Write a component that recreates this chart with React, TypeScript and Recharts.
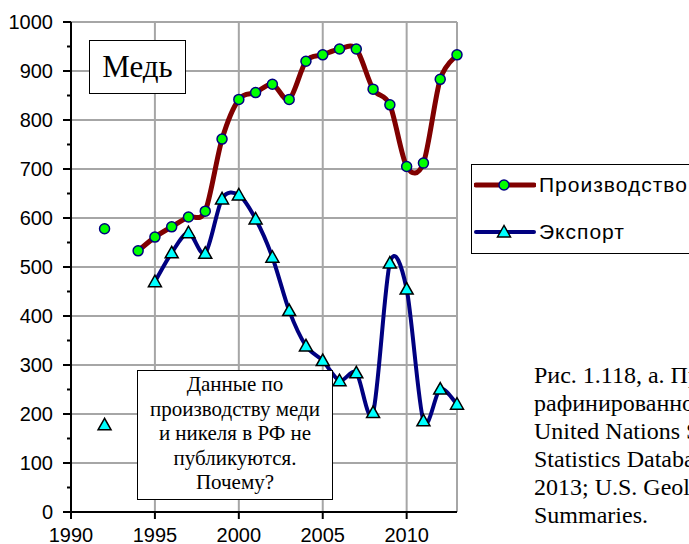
import { Line, LineChart, ReferenceLine, XAxis, YAxis } from 'recharts';

const years = [1992, 1993, 1994, 1995, 1996, 1997, 1998, 1999, 2000, 2001, 2002, 2003, 2004, 2005, 2006, 2007, 2008, 2009, 2010, 2011, 2012, 2013];
const production = [578, null, 533, 561, 582, 602, 614, 761, 842, 856, 873, 842, 920, 933, 945, 945, 863, 831, 705, 712, 883, 933];
const exportValues = [178, null, null, 470, 529, 570, 528, 639, 647, 598, 520, 411, 339, 309, 268, 284, 203, 508, 455, 186, 251, 220];

const xTicks = [1990, 1995, 2000, 2005, 2010];
const xGrid = [1995, 2000, 2005, 2010, 2013];
const yTicks = [0, 50, 100, 150, 200, 250, 300, 350, 400, 450, 500, 550, 600, 650, 700, 750, 800, 850, 900, 950, 1000];
const yGrid = [100, 200, 300, 400, 500, 600, 700, 800, 900, 1000];

const captionLines = [
  'Рис. 1.118, а. Производство и экспорт',
  'рафинированной меди, тыс. тонн. Источник:',
  'United Nations Statistics Division, Energy',
  'Statistics Database, Commodity Trade Statistics,',
  '2013; U.S. Geological Survey, Mineral Commodity',
  'Summaries.'
];
const noteLines = ['Данные по', 'производству меди', 'и никеля в РФ не', 'публикуются.', 'Почему?'];

const data = years.map((year, i) => ({ year, production: production[i], export: exportValues[i] }));

const SANS = '"Liberation Sans", Arial, sans-serif';
const SERIF = '"Liberation Serif", "Times New Roman", serif';
const GRID = '#a6a6a6';
const PROD_LINE = '#800000';
const EXP_LINE = '#000080';

// Excel-like smoothed line (cubic bezier through every point)
function smoothCurve(context: any) {
  let pts: number[][] = [];
  return {
    areaStart() {},
    areaEnd() {},
    lineStart() {
      pts = [];
    },
    lineEnd() {
      if (!pts.length) return;
      context.moveTo(pts[0][0], pts[0][1]);
      for (let i = 0; i < pts.length - 1; i++) {
        const p0 = pts[i - 1] ?? pts[i];
        const p1 = pts[i];
        const p2 = pts[i + 1];
        const p3 = pts[i + 2] ?? p2;
        const t = 0.15;
        context.bezierCurveTo(
          p1[0] + (p2[0] - p0[0]) * t,
          p1[1] + (p2[1] - p0[1]) * t,
          p2[0] - (p3[0] - p1[0]) * t,
          p2[1] - (p3[1] - p1[1]) * t,
          p2[0],
          p2[1]
        );
      }
    },
    point(x: number, y: number) {
      pts.push([+x, +y]);
    }
  };
}

function CircleDot(props: any) {
  const { cx, cy, index, value } = props;
  if (value == null || cx == null || cy == null) return <g key={`c-${index}`} />;
  return <circle key={`c-${index}`} cx={cx} cy={cy} r={5} fill="#00ff00" stroke="#000080" strokeWidth={1.5} />;
}

function TriangleDot(props: any) {
  const { cx, cy, index, value } = props;
  if (value == null || cx == null || cy == null) return <g key={`t-${index}`} />;
  const pts = `${cx},${cy - 6.5} ${cx - 6.5},${cy + 5} ${cx + 6.5},${cy + 5}`;
  return <polygon key={`t-${index}`} points={pts} fill="#00ffff" stroke="#000" strokeWidth={1.5} />;
}

function YTick(props: any) {
  const { x, y, payload } = props;
  const major = payload.value % 100 === 0;
  return (
    <g>
      <line x1={x - (major ? 8 : 4)} x2={x} y1={y} y2={y} stroke="#000" strokeWidth={2} />
      {major ? (
        <text x={x - 18} y={y + 7} textAnchor="end" fontFamily={SANS} fontSize={20} fill="#000">
          {payload.value}
        </text>
      ) : null}
    </g>
  );
}

function LegendRow({ color, width, marker, label }: { color: string; width: number; marker: 'circle' | 'triangle'; label: string }) {
  return (
    <div style={{ display: 'flex', alignItems: 'center', height: 23 }}>
      <svg width={62} height={20} style={{ marginLeft: 2 }}>
        <line x1={2} x2={60} y1={10} y2={10} stroke={color} strokeWidth={width} strokeLinecap="round" />
        {marker === 'circle' ? (
          <circle cx={30} cy={10} r={5} fill="#00ff00" stroke="#000080" strokeWidth={1.5} />
        ) : (
          <polygon points="30,3.5 23.5,15 36.5,15" fill="#00ffff" stroke="#000" strokeWidth={1.5} />
        )}
      </svg>
      <span style={{ marginLeft: 3, fontFamily: SANS, fontSize: 21, letterSpacing: 1, whiteSpace: 'nowrap' }}>{label}</span>
    </div>
  );
}

export default function App() {
  return (
    <div style={{ position: 'fixed', left: 0, top: 0, width: 689, height: 544, overflow: 'hidden', background: '#fff' }}>
      <LineChart width={689} height={544} data={data} margin={{ top: 22, right: 232, bottom: 0, left: 0 }}>
        {yGrid.map((v) => (
          <ReferenceLine key={`h${v}`} y={v} stroke={GRID} strokeWidth={2} />
        ))}
        {xGrid.map((v) => (
          <ReferenceLine key={`v${v}`} x={v} stroke={GRID} strokeWidth={2} />
        ))}
        <XAxis
          dataKey="year"
          type="number"
          domain={[1990, 2013]}
          ticks={xTicks}
          height={32}
          stroke="#000"
          axisLine={{ stroke: '#000', strokeWidth: 2 }}
          tickLine={{ stroke: '#000', strokeWidth: 2 }}
          tickSize={7}
          tickMargin={9}
          tick={{ fill: '#000', fontFamily: SANS, fontSize: 20 }}
          interval={0}
        />
        <YAxis
          type="number"
          domain={[0, 1000]}
          ticks={yTicks}
          width={71}
          axisLine={{ stroke: '#000', strokeWidth: 2 }}
          tickLine={false}
          tickSize={0}
          tickMargin={0}
          tick={<YTick />}
          interval={0}
        />
        <Line
          dataKey="production"
          type={smoothCurve as any}
          stroke={PROD_LINE}
          strokeWidth={5}
          strokeLinecap="round"
          connectNulls={false}
          dot={(p: any) => <CircleDot {...p} />}
          isAnimationActive={false}
        />
        <Line
          dataKey="export"
          type={smoothCurve as any}
          stroke={EXP_LINE}
          strokeWidth={4}
          strokeLinecap="round"
          connectNulls={false}
          dot={(p: any) => <TriangleDot {...p} />}
          isAnimationActive={false}
        />
      </LineChart>

      <div
        style={{
          position: 'absolute',
          left: 89,
          top: 40,
          width: 97,
          height: 54,
          boxSizing: 'border-box',
          border: '1.5px solid #000',
          background: '#fff',
          fontFamily: SERIF,
          fontSize: 31,
          lineHeight: '52px',
          textAlign: 'center'
        }}
      >
        Медь
      </div>

      <div
        style={{
          position: 'absolute',
          left: 137,
          top: 370,
          width: 196,
          height: 130,
          boxSizing: 'border-box',
          border: '1.5px solid #000',
          background: '#fff',
          fontFamily: SERIF,
          fontSize: 21,
          lineHeight: '24.5px',
          textAlign: 'center',
          paddingTop: 1
        }}
      >
        {noteLines.map((line) => (
          <div key={line} style={{ whiteSpace: 'nowrap' }}>
            {line}
          </div>
        ))}
      </div>

      <div
        style={{
          position: 'absolute',
          left: 471,
          top: 164,
          width: 260,
          height: 90,
          boxSizing: 'border-box',
          border: '1.5px solid #000',
          background: '#fff',
          paddingTop: 8
        }}
      >
        <LegendRow color={PROD_LINE} width={5} marker="circle" label="Производство" />
        <div style={{ height: 24 }} />
        <LegendRow color={EXP_LINE} width={4} marker="triangle" label="Экспорт" />
      </div>

      <div
        style={{
          position: 'absolute',
          left: 534,
          top: 361,
          fontFamily: SERIF,
          fontSize: 24,
          lineHeight: '28px',
          whiteSpace: 'nowrap'
        }}
      >
        {captionLines.map((line) => (
          <div key={line}>{line}</div>
        ))}
      </div>
    </div>
  );
}
